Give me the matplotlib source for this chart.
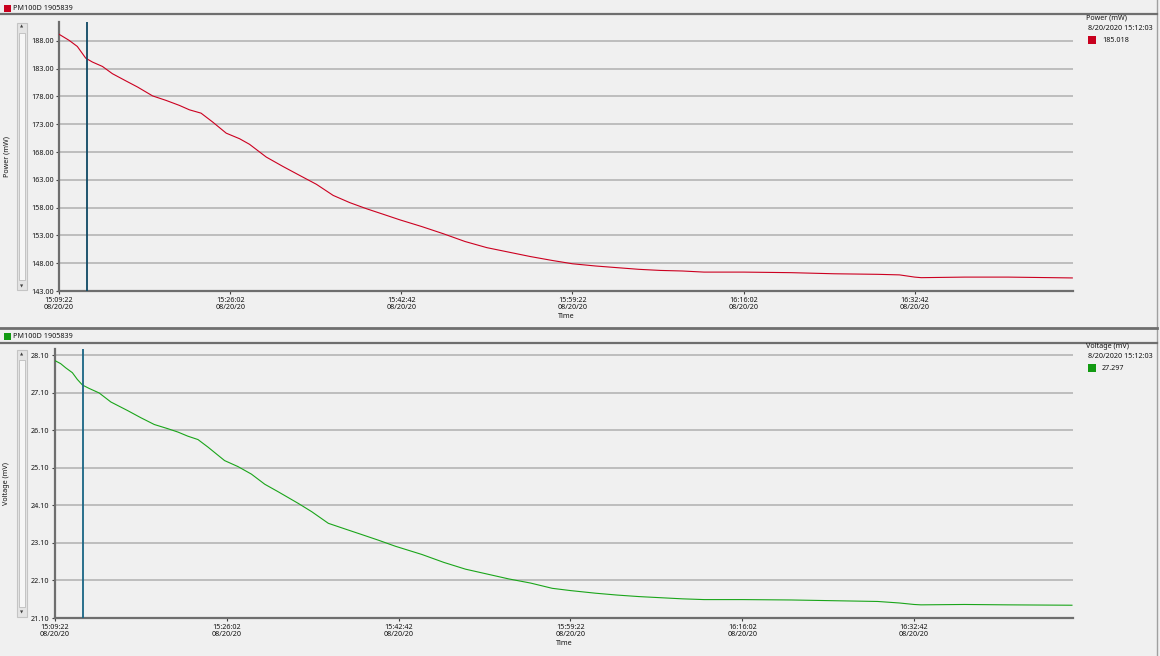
import datetime as dt

import matplotlib
matplotlib.use("Agg")
import matplotlib.pyplot as plt
from matplotlib.lines import Line2D
from matplotlib.patches import Rectangle

W, H = 1160, 656
BG = "#f0f0f0"
FONT = "Noto Sans"
TXT = "#141414"

# --- data (seconds after 15:09:22 on 08/20/2020) ---
start = dt.datetime(2020, 8, 20, 15, 9, 22)
cursor_s = 161  # 15:12:03

t_power = [0, 59, 107, 156, 195, 254, 312, 391, 459, 547, 625, 703, 762, 830, 898,
           977, 1055, 1113, 1211, 1309, 1406, 1504, 1602, 1699, 1797, 1895, 1992,
           2119, 2246, 2373, 2500, 2627, 2754, 2881, 3000, 3135, 3261, 3388, 3515,
           3642, 3769, 4000, 4277, 4530, 4784, 4911, 5000, 5038, 5292, 5546, 5800, 5921]
power_mw = [189.2, 188.1, 187.0, 184.9, 184.2, 183.4, 182.1, 180.8, 179.7, 178.1,
            177.3, 176.4, 175.6, 175.0, 173.4, 171.4, 170.4, 169.4, 167.1, 165.4,
            163.8, 162.2, 160.2, 158.9, 157.8, 156.8, 155.8, 154.6, 153.3, 151.9,
            150.8, 150.0, 149.2, 148.5, 147.9, 147.5, 147.2, 146.9, 146.7, 146.6,
            146.4, 146.4, 146.3, 146.1, 146.0, 145.9, 145.5, 145.4, 145.5, 145.5,
            145.4, 145.35]

t_volt = [0, 33, 62, 101, 130, 160, 199, 257, 325, 423, 500, 578, 656, 715, 773, 832,
          890, 987, 1065, 1143, 1221, 1299, 1416, 1494, 1591, 1688, 1786, 1883, 1981,
          2136, 2263, 2389, 2515, 2641, 2768, 2894, 3000, 3146, 3273, 3399, 3525,
          3652, 3778, 4000, 4283, 4535, 4788, 4914, 5000, 5040, 5293, 5545, 5919]
voltage_mv = [27.95, 27.87, 27.76, 27.63, 27.45, 27.30, 27.21, 27.09, 26.85, 26.62,
              26.43, 26.25, 26.14, 26.05, 25.94, 25.85, 25.65, 25.29, 25.13, 24.93,
              24.66, 24.46, 24.15, 23.93, 23.62, 23.47, 23.32, 23.17, 23.01, 22.79,
              22.58, 22.40, 22.27, 22.14, 22.03, 21.89, 21.83, 21.76, 21.71, 21.67,
              21.64, 21.61, 21.59, 21.59, 21.58, 21.56, 21.54, 21.50, 21.46, 21.45,
              21.46, 21.45, 21.44]

power_ticks = [143, 148, 153, 158, 163, 168, 173, 178, 183, 188]
volt_ticks = [21.1, 22.1, 23.1, 24.1, 25.1, 26.1, 27.1, 28.1]
x_ticks = [0, 1000, 2000, 3000, 4000, 5000]
x_labels = [(start + dt.timedelta(seconds=s)).strftime("%H:%M:%S\n%m/%d/%y") for s in x_ticks]

plt.rcParams["font.family"] = [FONT, "DejaVu Sans"]

fig = plt.figure(figsize=(W / 100, H / 100), dpi=100, facecolor=BG)


def fx(x):
    return x / W


def fy(y):
    return 1 - y / H


def hline(y, x0, x1, color="#6e6e6e", lw=1.6):
    fig.add_artist(Line2D([fx(x0), fx(x1)], [fy(y), fy(y)], color=color, lw=lw))


def scrollbar(x0, y0, y1):
    fig.add_artist(Rectangle((fx(x0), fy(y1)), fx(10), (y1 - y0) / H,
                             facecolor="#e4e4e4", edgecolor="#c4c4c4", lw=0.8))
    fig.add_artist(Rectangle((fx(x0 + 2), fy(y1 - 10)), fx(6), (y1 - y0 - 20) / H,
                             facecolor="#f6f6f6", edgecolor="#bcbcbc", lw=0.6))
    fig.text(fx(x0 + 5), fy(y0 + 4), "▲", fontsize=3, ha="center", va="center",
             color="#404040", family="DejaVu Sans")
    fig.text(fx(x0 + 5), fy(y1 - 4), "▼", fontsize=3, ha="center", va="center",
             color="#404040", family="DejaVu Sans")


def panel(box, t, vals, color, ticks, ylim, ylabel, cursor_color):
    left, top, right, bottom = box
    ax = fig.add_axes([fx(left), fy(bottom), fx(right - left), (bottom - top) / H])
    ax.set_facecolor(BG)
    for y in ticks[1:]:
        ax.axhline(y, color="#b4b4b4", lw=1.2, zorder=1)
    ax.plot(t, vals, color=color, lw=0.8, zorder=3)
    ax.axvline(cursor_s, color=cursor_color, lw=1.3, zorder=4)
    ax.set_xlim(0, 5925)
    ax.set_ylim(*ylim)
    ax.set_yticks(ticks)
    ax.set_yticklabels([f"{v:.2f}" for v in ticks])
    ax.set_xticks(x_ticks)
    ax.set_xticklabels(x_labels, linespacing=1.0)
    ax.tick_params(labelsize=5.2, length=2, width=0.8, pad=2, color="#404040",
                   labelcolor=TXT)
    for side in ("top", "right"):
        ax.spines[side].set_visible(False)
    for side in ("left", "bottom"):
        ax.spines[side].set_color("#6e6e6e")
        ax.spines[side].set_linewidth(1.6)
    ax.set_xlabel("Time", fontsize=5.2, labelpad=2, color=TXT)
    fig.text(fx(7), fy((top + bottom) / 2), ylabel, rotation=90, fontsize=5.2,
             ha="center", va="center", color=TXT)
    return ax


# frame lines
fig.add_artist(Line2D([fx(1157), fx(1157)], [0, 1], color="#a0a0a0", lw=1.0))
hline(14, 0, 1157)
hline(328, 0, 1157, lw=2.0)
hline(343, 0, 1157)

# headers
fig.add_artist(Rectangle((fx(4), fy(12)), fx(7), 7 / H, facecolor="#c8001e", edgecolor="none"))
fig.text(fx(13), fy(8), "PM100D 1905839", fontsize=5.2, va="center", color=TXT)
fig.add_artist(Rectangle((fx(4), fy(340)), fx(7), 7 / H, facecolor="#129a12", edgecolor="none"))
fig.text(fx(13), fy(336), "PM100D 1905839", fontsize=5.2, va="center", color=TXT)

scrollbar(17, 23, 290)
scrollbar(17, 350, 617)

panel((59, 22, 1073, 291), t_power, power_mw, "#cc0020", power_ticks,
      (143, 191.4), "Power (mW)", "#0f4864")
panel((55, 349, 1073, 618), t_volt, voltage_mv, "#1aa51a", volt_ticks,
      (21.1, 28.26), "Voltage (mV)", "#1a6584")

# right-hand readouts
fig.text(fx(1086), fy(18), "Power (mW)", fontsize=5.2, va="center", color=TXT)
fig.text(fx(1088), fy(29), "8/20/2020 15:12:03", fontsize=5.2, va="center", color=TXT)
fig.add_artist(Rectangle((fx(1088), fy(44)), fx(8), 8 / H, facecolor="#c8001e", edgecolor="none"))
fig.text(fx(1102), fy(40), "185.018", fontsize=5.2, va="center", color=TXT)

fig.text(fx(1086), fy(346), "Voltage (mV)", fontsize=5.2, va="center", color=TXT)
fig.text(fx(1088), fy(357), "8/20/2020 15:12:03", fontsize=5.2, va="center", color=TXT)
fig.add_artist(Rectangle((fx(1088), fy(372)), fx(8), 8 / H, facecolor="#129a12", edgecolor="none"))
fig.text(fx(1102), fy(368), "27.297", fontsize=5.2, va="center", color=TXT)

fig.savefig("out.png", dpi=100, facecolor=BG)
